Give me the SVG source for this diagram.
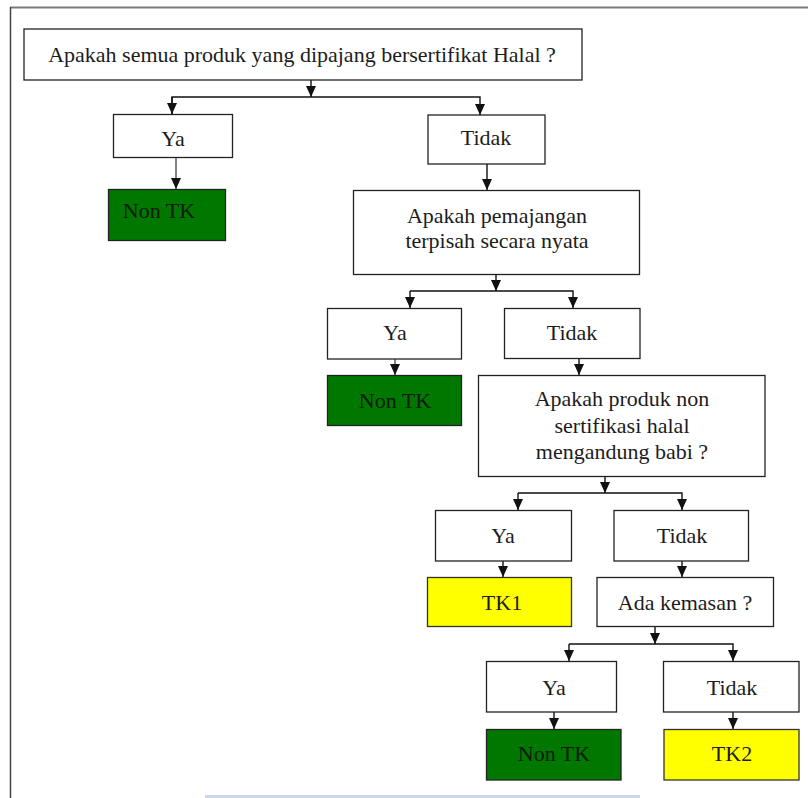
<svg xmlns="http://www.w3.org/2000/svg" width="808" height="798" viewBox="0 0 808 798">
  <style>
    .box { fill: #ffffff; stroke: #222222; stroke-width: 1.3; }
    .green { fill: #007800; stroke: #222222; stroke-width: 1.3; }
    .yellow { fill: #ffff00; stroke: #333333; stroke-width: 1.3; }
    .lbl { font-family: "Liberation Serif", "Times New Roman", serif; font-size: 22px; fill: #1c1c1c; text-anchor: middle; }
    .dark { fill: #0d1a0d; }
    .wire { fill: none; stroke: #111111; stroke-width: 1.4; }
    .soft { fill: none; stroke: #666666; stroke-width: 1.6; }
  </style>
  <defs>
    <marker id="head" viewBox="0 0 10 10" refX="10" refY="5" markerWidth="11" markerHeight="10" markerUnits="userSpaceOnUse" orient="auto" preserveAspectRatio="none">
      <path d="M0,0 L10,5 L0,10 z" fill="#111111"/>
    </marker>
  </defs>

  <rect width="808" height="798" fill="#ffffff"/>

  <!-- page frame -->
  <g id="frame">
    <line x1="10" y1="7.5" x2="808" y2="7.5" stroke="#7a7a7a" stroke-width="2"/>
    <line x1="10.5" y1="7" x2="10.5" y2="798" stroke="#444444" stroke-width="1.5"/>
    <rect x="205" y="795" width="435" height="3" fill="#cdd8e6"/>
  </g>

  <!-- connectors -->
  <g id="connectors">
    <line class="wire" x1="311" y1="80" x2="311" y2="97" marker-end="url(#head)"/>
    <polyline class="wire" points="172,114 172,97 480,97 480,115" marker-end="url(#head)"/>
    <line class="wire" x1="172" y1="97" x2="172" y2="114" marker-end="url(#head)"/>
    <line class="soft" x1="176" y1="157" x2="176" y2="189" marker-end="url(#head)"/>
    <line class="wire" x1="487" y1="164" x2="487" y2="190" marker-end="url(#head)"/>

    <line class="wire" x1="496" y1="274" x2="496" y2="291" marker-end="url(#head)"/>
    <polyline class="wire" points="410,291 573,291 573,308" marker-end="url(#head)"/>
    <line class="wire" x1="410" y1="291" x2="410" y2="308" marker-end="url(#head)"/>
    <line class="soft" x1="395" y1="359" x2="395" y2="375" marker-end="url(#head)"/>
    <line class="wire" x1="579" y1="358" x2="579" y2="375" marker-end="url(#head)"/>

    <line class="wire" x1="605" y1="476" x2="605" y2="493" marker-end="url(#head)"/>
    <polyline class="wire" points="518,493 682,493 682,510" marker-end="url(#head)"/>
    <line class="wire" x1="518" y1="493" x2="518" y2="510" marker-end="url(#head)"/>
    <line class="wire" x1="503" y1="561" x2="503" y2="577" marker-end="url(#head)"/>
    <line class="wire" x1="682" y1="561" x2="682" y2="577" marker-end="url(#head)"/>

    <line class="wire" x1="655" y1="627" x2="655" y2="644" marker-end="url(#head)"/>
    <polyline class="wire" points="569,644 733,644 733,661" marker-end="url(#head)"/>
    <line class="wire" x1="569" y1="644" x2="569" y2="661" marker-end="url(#head)"/>
    <line class="wire" x1="554" y1="712" x2="554" y2="729" marker-end="url(#head)"/>
    <line class="wire" x1="733" y1="712" x2="733" y2="729" marker-end="url(#head)"/>
  </g>

  <!-- question 1 -->
  <g id="q1">
    <rect class="box" x="24" y="29" width="558" height="51"/>
    <text class="lbl" x="302" y="62">Apakah semua produk yang dipajang bersertifikat Halal ?</text>
  </g>
  <g id="ya1">
    <rect class="box" x="113.5" y="114.5" width="119" height="43"/>
    <text class="lbl" x="173" y="146">Ya</text>
  </g>
  <g id="nontk1">
    <rect class="green" x="108.5" y="189.5" width="117" height="51"/>
    <text class="lbl dark" x="159" y="218">Non TK</text>
  </g>
  <g id="tidak1">
    <rect class="box" x="428" y="115" width="117" height="49"/>
    <text class="lbl" x="486" y="145">Tidak</text>
  </g>

  <!-- question 2 -->
  <g id="q2">
    <rect class="box" x="353.5" y="190.5" width="286" height="84"/>
    <text class="lbl" x="497" y="223">Apakah pemajangan</text>
    <text class="lbl" x="497" y="247.5">terpisah secara nyata</text>
  </g>
  <g id="ya2">
    <rect class="box" x="327.5" y="308.5" width="134" height="50.5"/>
    <text class="lbl" x="395" y="340">Ya</text>
  </g>
  <g id="nontk2">
    <rect class="green" x="327.5" y="375.5" width="134" height="50"/>
    <text class="lbl dark" x="395" y="408">Non TK</text>
  </g>
  <g id="tidak2">
    <rect class="box" x="504.5" y="308.5" width="135.5" height="50"/>
    <text class="lbl" x="572" y="340">Tidak</text>
  </g>

  <!-- question 3 -->
  <g id="q3">
    <rect class="box" x="478.5" y="375.5" width="286.5" height="101"/>
    <text class="lbl" x="622" y="406">Apakah produk non</text>
    <text class="lbl" x="622" y="432.5">sertifikasi halal</text>
    <text class="lbl" x="622" y="458.5">mengandung babi ?</text>
  </g>
  <g id="ya3">
    <rect class="box" x="435.5" y="510.5" width="136" height="50.5"/>
    <text class="lbl" x="503" y="543">Ya</text>
  </g>
  <g id="tk1">
    <rect class="yellow" x="427.5" y="577.5" width="144" height="49"/>
    <text class="lbl" x="502" y="610">TK1</text>
  </g>
  <g id="tidak3">
    <rect class="box" x="614" y="510.5" width="134.5" height="50.5"/>
    <text class="lbl" x="682" y="543">Tidak</text>
  </g>

  <!-- question 4 -->
  <g id="q4">
    <rect class="box" x="597" y="577.5" width="176.5" height="49"/>
    <text class="lbl" x="685" y="610">Ada kemasan ?</text>
  </g>
  <g id="ya4">
    <rect class="box" x="486.5" y="661.5" width="130" height="50.5"/>
    <text class="lbl" x="554" y="695">Ya</text>
  </g>
  <g id="nontk3">
    <rect class="green" x="486.5" y="729.5" width="134.5" height="50.5"/>
    <text class="lbl dark" x="554" y="761">Non TK</text>
  </g>
  <g id="tidak4">
    <rect class="box" x="663.5" y="661.5" width="135.5" height="50.5"/>
    <text class="lbl" x="732" y="695">Tidak</text>
  </g>
  <g id="tk2">
    <rect class="yellow" x="664" y="729.5" width="135" height="50.5"/>
    <text class="lbl" x="732" y="761">TK2</text>
  </g>
</svg>
